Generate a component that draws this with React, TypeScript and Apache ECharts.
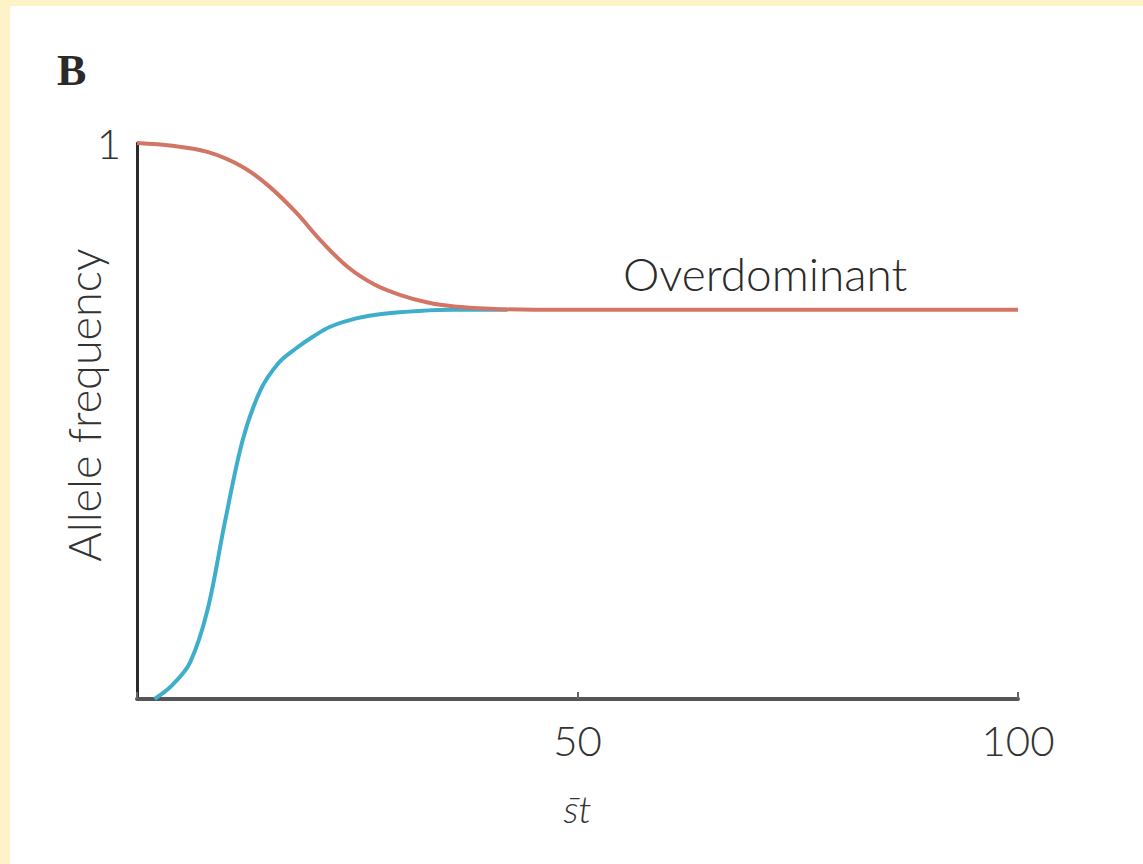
import React, { useEffect, useRef } from "react";
import * as echarts from "echarts";

// Time axis (s̄t) and allele frequencies for the two starting conditions
const highStartT = [0, 4, 8, 12, 15, 18, 21, 24, 27, 30, 33, 36, 40, 45, 50, 75, 100];
const highStartFreq = [1.0, 0.995, 0.984, 0.957, 0.922, 0.876, 0.822, 0.776, 0.745, 0.726, 0.713, 0.706, 0.702, 0.7, 0.7, 0.7, 0.7];

const lowStartT = [2, 4, 6, 8, 10, 12, 14, 16, 18, 20, 22, 25, 28, 32, 36, 42];
const lowStartFreq = [0, 0.025, 0.065, 0.16, 0.32, 0.466, 0.555, 0.603, 0.63, 0.652, 0.67, 0.685, 0.693, 0.698, 0.7, 0.7];

const xTickLabels = ["50", "100"];
const yTickLabels = ["1"];

const FONT = "Lato, 'Open Sans', sans-serif";

export default function App() {
  const ref = useRef<HTMLDivElement>(null);

  useEffect(() => {
    if (!ref.current) return;
    const chart = echarts.init(ref.current, undefined, { renderer: "svg" });

    const pair = (xs: number[], ys: number[]) => xs.map((x, i) => [x, ys[i]]);

    chart.setOption({
      animation: false,
      backgroundColor: "transparent",
      grid: { left: 137, right: 125, top: 143, bottom: 165, containLabel: false },
      xAxis: {
        type: "value",
        min: 0,
        max: 100,
        interval: 50,
        name: "s\u0304t",
        nameLocation: "middle",
        nameGap: 90,
        nameTextStyle: { fontFamily: FONT, fontStyle: "italic", fontWeight: 300, fontSize: 38, color: "#333" },
        axisLine: { show: true, lineStyle: { color: "#555", width: 4 } },
        axisTick: { show: true, inside: true, length: 7, lineStyle: { color: "#666", width: 2 } },
        axisLabel: {
          fontFamily: FONT,
          fontWeight: 300,
          fontSize: 42,
          color: "#333",
          margin: 20,
          formatter: (v: number) => (xTickLabels.includes(String(v)) ? String(v) : ""),
        },
        splitLine: { show: false },
      },
      yAxis: {
        type: "value",
        min: 0,
        max: 1,
        interval: 1,
        axisLine: { show: true, lineStyle: { color: "#2a2a2a", width: 3 } },
        axisTick: { show: false },
        axisLabel: {
          fontFamily: FONT,
          fontWeight: 300,
          fontSize: 42,
          color: "#333",
          margin: 16,
          formatter: (v: number) => (yTickLabels.includes(String(v)) ? String(v) : ""),
        },
        splitLine: { show: false },
      },
      graphic: [
        {
          type: "text",
          left: 57,
          top: 48,
          style: { text: "B", fontFamily: "'Liberation Serif', serif", fontWeight: "bold", fontSize: 44, fill: "#2a2a2a" },
        },
        {
          type: "text",
          x: 84,
          y: 405,
          rotation: Math.PI / 2,
          style: {
            text: "Allele frequency",
            fontFamily: FONT,
            fontWeight: 300,
            fontSize: 45,
            fill: "#333",
            align: "center",
            verticalAlign: "middle",
          },
        },
        {
          type: "text",
          x: 623,
          y: 273,
          style: {
            text: "Overdominant",
            fontFamily: FONT,
            fontWeight: 300,
            fontSize: 46,
            fill: "#2a2a2a",
            align: "left",
            verticalAlign: "middle",
          },
        },
      ],
      series: [
        {
          type: "line",
          data: pair(lowStartT, lowStartFreq),
          smooth: 0.35,
          showSymbol: false,
          lineStyle: { color: "#3eaecb", width: 4 },
          z: 3,
        },
        {
          type: "line",
          data: pair(highStartT, highStartFreq),
          smooth: 0.35,
          showSymbol: false,
          lineStyle: { color: "#d27565", width: 4 },
          z: 4,
        },
      ],
    });

    return () => chart.dispose();
  }, []);

  return (
    <div style={{ position: "fixed", left: 0, top: 0, width: 1143, height: 864, background: "#fef2c8" }}>
      <div style={{ position: "absolute", left: 10, top: 6, width: 1133, height: 858, background: "#ffffff" }} />
      <div ref={ref} style={{ position: "absolute", left: 0, top: 0, width: 1143, height: 864 }} />
    </div>
  );
}
